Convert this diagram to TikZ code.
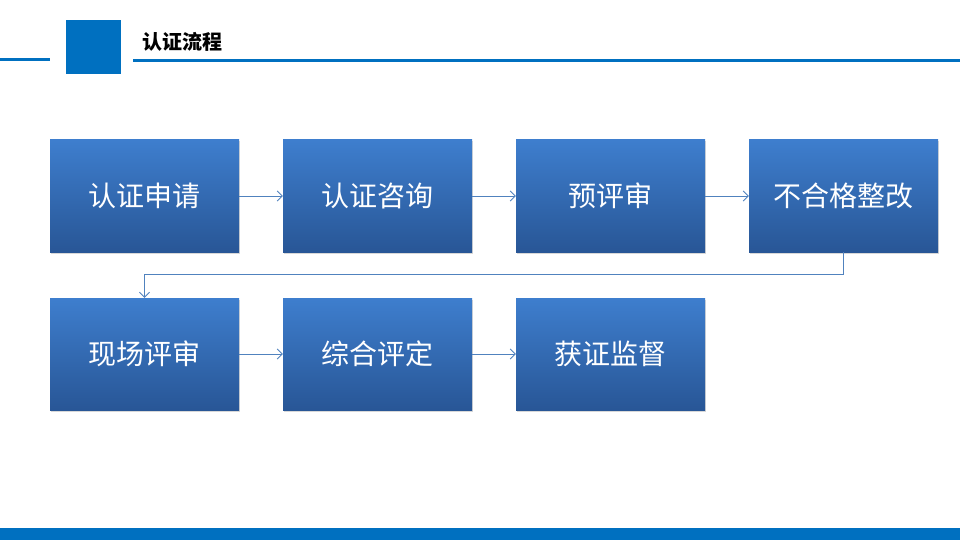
\documentclass[tikz,border=0pt]{standalone}
\usepackage{fontspec}
\newfontfamily\cjk{Noto Sans CJK SC}
\usetikzlibrary{arrows.meta}
\definecolor{hb}{RGB}{0,112,192}
\definecolor{gtop}{RGB}{62,126,206}
\definecolor{gbot}{RGB}{40,86,150}
\definecolor{ln}{RGB}{80,130,190}
\tikzset{
 stepbox/.style={minimum width=189pt,minimum height=112pt,inner sep=0pt,top color=gtop,bottom color=gbot,draw=none,text=white,font=\cjk\fontsize{28pt}{36pt}\selectfont,align=center,text width=150pt,drop shadow={opacity=0.3,shadow xshift=1pt,shadow yshift=-1.5pt}},
 conn/.style={draw=ln,line width=0.8pt,-{Straight Barb[length=5pt,width=10pt]}}
}
\usetikzlibrary{shadows}
\begin{document}
\begin{tikzpicture}[x=1pt,y=-1pt]
\useasboundingbox (0,0) rectangle (960,540);
\fill[white] (0,0) rectangle (960,540);
\fill[hb] (0,58.5) rectangle (50,61.5);
\fill[hb] (66,20) rectangle (121,74);
\fill[hb] (133,59.5) rectangle (960,62.5);
\node[anchor=west,font=\cjk\bfseries\fontsize{20pt}{24pt}\selectfont,inner sep=0pt] (title) at (142,42) {认证流程};
\fill[hb] (0,528) rectangle (960,540);
\node[stepbox] (a) at (144.5,196) {认证申请};
\node[stepbox] (b) at (377.5,196) {认证咨询};
\node[stepbox] (c) at (610.5,196) {预评审};
\node[stepbox] (d) at (843.5,196) {不合格整改};
\node[stepbox] (e) at (144.5,354) {现场评审};
\node[stepbox] (f) at (377.5,354) {综合评定};
\node[stepbox] (g) at (610.5,354) {获证监督};
\draw[conn] (a) -- (b);
\draw[conn] (b) -- (c);
\draw[conn] (c) -- (d);
\draw[conn] (d.south) -- ++(0,22) -| (e.north);
\draw[conn] (e) -- (f);
\draw[conn] (f) -- (g);
\end{tikzpicture}
\end{document}
